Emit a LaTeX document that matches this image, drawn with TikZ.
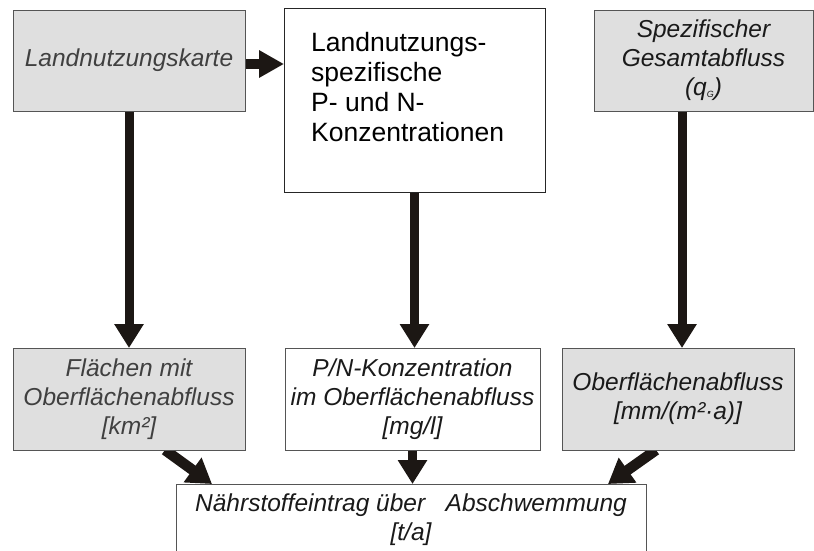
\documentclass[tikz,border=0pt]{standalone}
\usepackage{fontspec}
\setmainfont{Liberation Sans}
\usetikzlibrary{arrows.meta,calc,backgrounds}
\definecolor{boxgray}{HTML}{DFDFDF}
\definecolor{edgegray}{HTML}{555555}
\definecolor{arrowdark}{HTML}{1C1714}
\definecolor{textgray}{HTML}{404040}
\definecolor{textdark}{HTML}{1A1A1A}
\begin{document}
\begin{tikzpicture}[x=1pt,y=-1pt,
 box/.style={draw=edgegray, line width=1pt, inner sep=0pt, outer sep=0pt, align=center, font=\fontsize{24.5}{29}\selectfont\itshape},
 graybox/.style={box, fill=boxgray},
 whitebox/.style={box, fill=white},
 flow/.style={draw=arrowdark, line width=9pt, -{Triangle[length=24pt, width=28pt]}},
 hflow/.style={draw=arrowdark, line width=10pt, -{Triangle[length=25pt, width=26pt]}},
 dflow/.style={draw=arrowdark, line width=10.5pt, -{Triangle[length=24pt, width=29pt]}},
]
\useasboundingbox (0,0) rectangle (814,550);
\node[graybox, minimum width=232pt, minimum height=101pt, text=textgray] (b1) at (129,60.5) {Landnutzungskarte};
\node[whitebox, minimum width=261pt, minimum height=184pt, draw=black!85] (b2) at (414.5,100) {};
\node[anchor=north west, inner sep=0pt, align=left, font=\fontsize{26.5}{30}\selectfont, text=black] (b2t) at (311,32.5) {Landnutzungs-\\spezifische\\P- und N-\\Konzentrationen};
\node[graybox, minimum width=219pt, minimum height=101pt, text=textdark] (b3) at (703.5,60.5) {Spezifischer\\Gesamtabfluss\\(q{\fontsize{9}{9}\selectfont\raisebox{-2pt}{G}})};
\node[graybox, minimum width=232pt, minimum height=102pt, text=textgray] (b4) at (129,399) {Flächen mit\\Oberflächenabfluss\\{[km²]}};
\node[whitebox, minimum width=255pt, minimum height=102pt, text=textdark] (b5) at (412.5,399) {P/N-Konzentration\\im Oberflächenabfluss\\{[mg/l]}};
\node[graybox, minimum width=232pt, minimum height=102pt, text=textdark] (b6) at (678,399) {Oberflächenabfluss\\{[mm/(m²·a)]}};
\node[whitebox, minimum width=470pt, minimum height=72pt, text=textdark] (b7) at (411,520) {Nährstoffeintrag über~~~Abschwemmung\\{[t/a]}};
\begin{scope}[on background layer]
\draw[hflow] ([yshift=-3.5pt]b1.east) -- ([yshift=-3.5pt]b1.east -| b2.west);
\draw[flow] (b1.south) -- (b4.north);
\draw[flow] (b2.south) -- (b2.south |- b5.north);
\draw[flow] ([xshift=4pt]b6.north |- b3.south) -- ([xshift=4pt]b6.north);
\draw[flow] (b5.south) -- (b5.south |- b7.north);
\draw[dflow] ([xshift=36pt]b4.south) -- ([xshift=36pt]b7.north west);
\draw[dflow] ([xshift=-22pt]b6.south) -- ([xshift=-38pt]b7.north east);
\end{scope}
\end{tikzpicture}
\end{document}
